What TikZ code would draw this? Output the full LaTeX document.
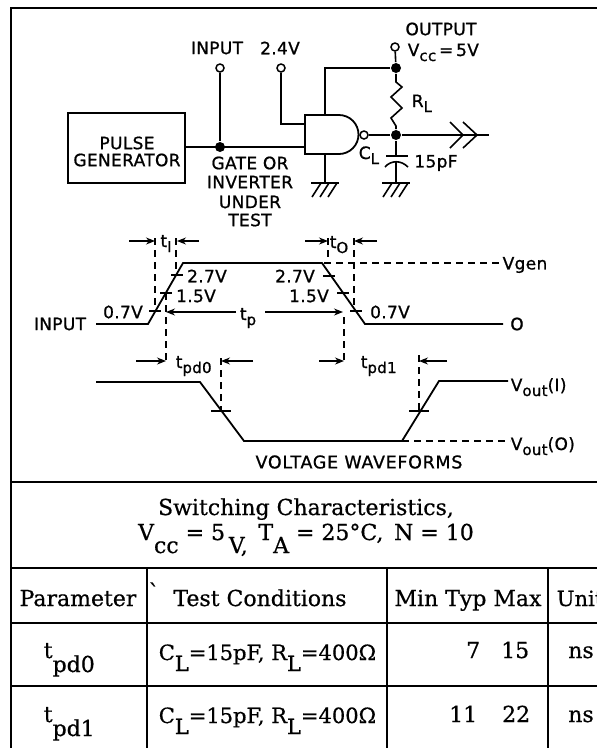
\documentclass[tikz,border=0pt]{standalone}
\usepackage{fontspec}
\usepackage{amsmath}
\newfontfamily\lettering[FakeBold=0.9, LetterSpace=2]{DejaVu Sans}
\newfontfamily\tablefont[FakeBold=0.6]{DejaVu Serif}
\newcommand{\lsub}[1]{\raisebox{-5pt}{\fontsize{15}{15}\selectfont #1}}
\newcommand{\tsub}[2][13]{\raisebox{-#1pt}{#2}}

\tikzset{
  lbl/.style = {font=\lettering\fontsize{17}{17}\selectfont, inner sep=0pt},
  tbl/.style = {font=\tablefont\fontsize{22}{22}\selectfont, inner sep=0pt, anchor=base},
  term/.style = {circle, draw, fill=white, line width=1.5pt, inner sep=0pt, minimum size=8pt},
  jct/.style = {circle, fill=black, inner sep=0pt, minimum size=10pt},
  wave/.style = {line width=1.8pt},
  dsh/.style = {line width=1.4pt, dash pattern=on 7pt off 5pt},
  dim/.style = {line width=1.2pt, -{Stealth[length=9pt, width=7pt]}}
}
\usetikzlibrary{arrows.meta}

\begin{document}
\begin{tikzpicture}[x=1pt, y=-1pt, line width=1.6pt]

\useasboundingbox (0,0) rectangle (597,748);
\clip (0,0) rectangle (597,748);

% frame and table rules
\draw[line width=2.2pt] (11,748) -- (11,8) -- (597,8);
\foreach \y in {482, 568, 623, 686} {
  \draw[line width=2pt] (11,\y) -- (597,\y);
}
\foreach \x in {147, 387, 548} {
  \draw[line width=2pt] (\x,568) -- (\x,748);
}

% circuit
\node[draw, minimum width=117pt, minimum height=70pt, inner sep=0pt, line width=1.8pt] (pulsegen) at (126.5,148) {};
\node[lbl] at (127,143) {PULSE};
\node[lbl] at (127,160) {GENERATOR};

\coordinate (gatea) at (305,147);
\coordinate (gateb) at (305,124);
\coordinate (gatevcc) at (325,115);
\coordinate (gategnd) at (325,154);
\coordinate (outjct) at (396,135);
\coordinate (vccjct) at (396,68);
\coordinate (outend) at (489,135);

\draw[line width=1.8pt] (305,115) -- (339,115) arc[start angle=-90, end angle=90, radius=19.5] -- (305,154) -- cycle;

\node[jct] (injct) at (220,147) {};
\node[term] (interm) at (220,68) {};
\node[term] (bterm) at (281,68) {};
\node[term] (vccterm) at (395,47) {};
\node[term] (bubble) at (364,135) {};
\node[jct] (vccdot) at (vccjct) {};
\node[jct] (outdot) at (outjct) {};

\draw (pulsegen.east |- gatea) -- (gatea);
\draw (interm) -- (injct);
\draw (bterm) |- (gateb);
\draw (vccterm) -- (vccdot);
\draw (vccdot) -| (gatevcc);
\draw (bubble) -- (outdot) -- (outend);

% load resistor
\draw (vccdot) -- (396,82) -- (402,87) -- (391,97) -- (402,108) -- (391,118) -- (396,126) -- (outdot);

% capacitor
\draw (outdot) -- (396,156);
\draw (386,156) -- (408,156);
\draw (385,167) .. controls (391,160) and (401,160) .. (408,167);
\draw (396,161) -- (396,183);

% grounds
\draw (gategnd) -- (325,183);
\foreach \x in {325, 396} {
  \draw (\x-14,183) -- (\x+14,183);
  \foreach \d in {-4, 4, 12} {
    \draw ({\x+\d},183) -- ({\x+\d-9},197);
  }
}

% output plug
\draw (450,122) -- (463,135) -- (450,148);
\draw (463,122) -- (477,135) -- (463,148);

\node[lbl] at (217,48) {INPUT};
\node[lbl] at (280,48) {2.4V};
\node[lbl] at (441,29) {OUTPUT};
\node[lbl, anchor=base west] at (407,56) {V\lsub{cc}\,=\,5V};
\node[lbl, anchor=base west] at (411,107) {R\lsub{L}};
\node[lbl, anchor=base west] at (358,159) {C\lsub{L}};
\node[lbl] at (436,163) {15pF};
\node[lbl] at (250,163) {GATE OR};
\node[lbl] at (250,182) {INVERTER};
\node[lbl] at (250,202) {UNDER};
\node[lbl] at (250,220) {TEST};

% input waveform
\draw[wave] (96,324) -- (148,324) -- (183,263) -- (322,263) -- (365,324) -- (503,324);
\node[lbl] at (60,324) {INPUT};
\node[lbl] at (517,324) {O};
\draw[dsh] (324,263) -- (499,263);
\node[lbl] at (525,265) {Vgen};

\foreach \x/\y in {177/275, 166/293, 155/311, 329/276, 343/293, 356/311} {
  \draw ({\x-6},\y) -- ({\x+6},\y);
}
\node[lbl] at (207,276) {2.7V};
\node[lbl] at (196,296) {1.5V};
\node[lbl] at (123,312) {0.7V};
\node[lbl] at (295,276) {2.7V};
\node[lbl] at (309,296) {1.5V};
\node[lbl] at (390,312) {0.7V};

% edge times
\draw[dsh] (155,238) -- (155,311);
\draw[dsh] (176,238) -- (176,276);
\draw[dsh] (328,238) -- (328,263);
\draw[dsh] (354,238) -- (354,311);
\draw[dim] (129,241) -- (155,241);
\draw[dim] (199,241) -- (177,241);
\draw[dim] (305,241) -- (328,241);
\draw[dim] (377,241) -- (354,241);
\node[lbl, anchor=base] at (166,247) {t\lsub{I}};
\node[lbl, anchor=base] at (339,248) {t\lsub{O}};

% pulse width
\node[lbl, anchor=base] (tp) at (248,320) {t\lsub{p}};
\coordinate (tpl) at (236,312);
\coordinate (tpr) at (265,312);
\draw[dim] (tpl) -- (166,312);
\draw[dim] (tpr) -- (343,312);

% output waveform
\draw[wave] (96,382) -- (200,382) -- (244,441) -- (402,441) -- (439,381) -- (508,381);
\draw[dsh] (402,441) -- (510,441);
\foreach \x in {221, 419} {
  \draw ({\x-10},411) -- ({\x+10},411);
}
\node[lbl, anchor=base west] at (510,391) {V\lsub{out}(I)};
\node[lbl, anchor=base west] at (510,450) {V\lsub{out}(O)};
\node[lbl, font=\lettering\fontsize{17.5}{17.5}\selectfont\addfontfeatures{LetterSpace=4}] at (359,462) {VOLTAGE WAVEFORMS};

% delays
\draw[dsh] (166,293) -- (166,361);
\draw[dsh] (344,317) -- (344,362);
\draw[dsh] (221,358) -- (221,410);
\draw[dsh] (419,355) -- (419,410);
\draw[dim] (136,361) -- (166,361);
\draw[dim] (253,361) -- (221,361);
\draw[dim] (319,361) -- (344,361);
\draw[dim] (447,361) -- (419,361);
\node[lbl, anchor=base west] at (175,368) {t\lsub{pd0}};
\node[lbl, anchor=base west] at (360,368) {t\lsub{pd1}};

% table
\node[tbl] at (306,515) {Switching Characteristics,};
\node[tbl] at (306,540) {V\tsub{cc} = 5\,\tsub{V,}\, T\tsub{A} = 25°C,\, N = 10};
\node[tbl] at (78,606) {Parameter};
\node[tbl] at (154,600) {`};
\node[tbl] at (260,606) {Test Conditions};
\node[tbl] at (468,606) {Min Typ Max};
\node[tbl, anchor=base west, font=\tablefont\fontsize{21}{21}\selectfont] at (556,606) {Unit};

\node[tbl, anchor=base west] at (43,658) {t\tsub[14]{pd0}};
\node[tbl, anchor=base west] at (43,722) {t\tsub[14]{pd1}};
\foreach \y/\yy in {660/658, 723/722} {
  \node[tbl, anchor=base west, font=\tablefont\fontsize{21}{21}\selectfont] at (158,\y) {C\tsub[11]{L}=15pF, R\tsub[11]{L}=400Ω};
  \node[tbl] at (581,\yy) {ns};
}
\node[tbl, anchor=base east] at (481,658) {7};
\node[tbl, anchor=base east] at (530,658) {15};
\node[tbl, anchor=base east] at (478,722) {11};
\node[tbl, anchor=base east] at (531,722) {22};

\end{tikzpicture}
\end{document}
